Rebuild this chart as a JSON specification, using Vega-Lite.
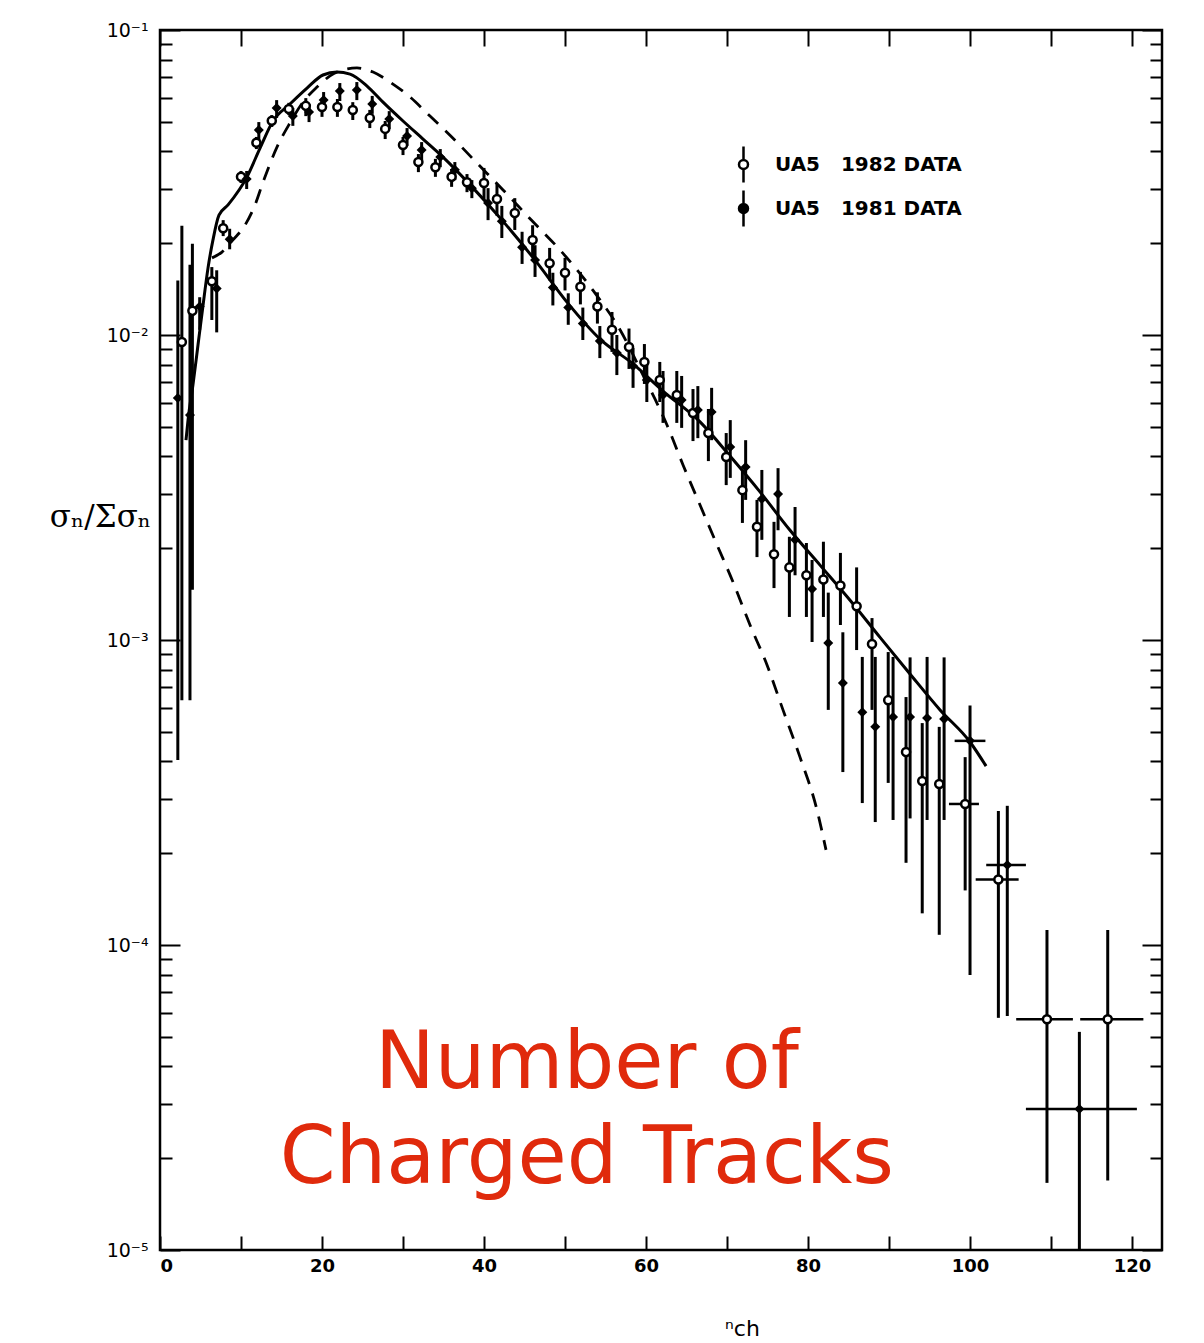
{
 "$schema": "https://vega.github.io/schema/vega-lite/v6.json",
 "width": 1002,
 "height": 1220,
 "autosize": {"type": "none"},
 "padding": {"left": 160, "top": 30, "right": 42, "bottom": 93},
 "background": "white",
 "config": {
  "view": {"stroke": "black", "strokeWidth": 2.5},
  "axis": {"domain": false, "grid": false, "tickColor": "black", "tickWidth": 2, "labelColor": "black", "labelFont": "DejaVu Sans", "labelFontWeight": "bold", "labelFontSize": 18, "titleColor": "black"}
 },
 "datasets": {
  "pts": [
   {"s":"1982","n":2.7,"v":0.00948,"lo":0.000635,"hi":0.0228},
   {"s":"1982","n":4.0,"v":0.0120,"lo":0.00146,"hi":0.0199},
   {"s":"1982","n":6.4,"v":0.0150,"lo":0.0112,"hi":0.0167},
   {"s":"1982","n":7.8,"v":0.0224,"lo":0.0211,"hi":0.0238},
   {"s":"1982","n":10.0,"v":0.0330,"lo":0.0315,"hi":0.0345},
   {"s":"1982","n":11.9,"v":0.0427,"lo":0.0407,"hi":0.0446},
   {"s":"1982","n":13.8,"v":0.0504,"lo":0.0481,"hi":0.0526},
   {"s":"1982","n":15.9,"v":0.0551,"lo":0.0526,"hi":0.0577},
   {"s":"1982","n":18.0,"v":0.0564,"lo":0.0522,"hi":0.0598},
   {"s":"1982","n":20.0,"v":0.0559,"lo":0.0519,"hi":0.0594},
   {"s":"1982","n":21.9,"v":0.0559,"lo":0.0519,"hi":0.0594},
   {"s":"1982","n":23.8,"v":0.0547,"lo":0.0507,"hi":0.0580},
   {"s":"1982","n":25.9,"v":0.0515,"lo":0.0477,"hi":0.0547},
   {"s":"1982","n":27.8,"v":0.0474,"lo":0.0439,"hi":0.0503},
   {"s":"1982","n":30.0,"v":0.0420,"lo":0.0389,"hi":0.0446},
   {"s":"1982","n":31.9,"v":0.0369,"lo":0.0342,"hi":0.0392},
   {"s":"1982","n":34.0,"v":0.0355,"lo":0.0330,"hi":0.0378},
   {"s":"1982","n":36.0,"v":0.0330,"lo":0.0306,"hi":0.0350},
   {"s":"1982","n":37.9,"v":0.0317,"lo":0.0294,"hi":0.0337},
   {"s":"1982","n":40.0,"v":0.0315,"lo":0.0277,"hi":0.0353},
   {"s":"1982","n":41.6,"v":0.0279,"lo":0.0246,"hi":0.0313},
   {"s":"1982","n":43.8,"v":0.0251,"lo":0.0221,"hi":0.0281},
   {"s":"1982","n":46.0,"v":0.0205,"lo":0.0180,"hi":0.0229},
   {"s":"1982","n":48.1,"v":0.0172,"lo":0.0151,"hi":0.0193},
   {"s":"1982","n":50.0,"v":0.0160,"lo":0.0140,"hi":0.0179},
   {"s":"1982","n":51.9,"v":0.0144,"lo":0.0126,"hi":0.0161},
   {"s":"1982","n":54.0,"v":0.0124,"lo":0.0109,"hi":0.0138},
   {"s":"1982","n":55.8,"v":0.0104,"lo":0.00880,"hi":0.0119},
   {"s":"1982","n":57.9,"v":0.00913,"lo":0.00774,"hi":0.0105},
   {"s":"1982","n":59.8,"v":0.00816,"lo":0.00691,"hi":0.00934},
   {"s":"1982","n":61.7,"v":0.00712,"lo":0.00603,"hi":0.00816},
   {"s":"1982","n":63.8,"v":0.00636,"lo":0.00515,"hi":0.00762},
   {"s":"1982","n":65.8,"v":0.00555,"lo":0.00449,"hi":0.00665},
   {"s":"1982","n":67.7,"v":0.00477,"lo":0.00386,"hi":0.00572},
   {"s":"1982","n":69.9,"v":0.00398,"lo":0.00322,"hi":0.00477},
   {"s":"1982","n":71.9,"v":0.00310,"lo":0.00242,"hi":0.00361},
   {"s":"1982","n":73.7,"v":0.00235,"lo":0.00187,"hi":0.00288},
   {"s":"1982","n":75.8,"v":0.00191,"lo":0.00148,"hi":0.00244},
   {"s":"1982","n":77.7,"v":0.00173,"lo":0.00119,"hi":0.00218},
   {"s":"1982","n":79.8,"v":0.00163,"lo":0.00119,"hi":0.00208},
   {"s":"1982","n":81.9,"v":0.00158,"lo":0.00119,"hi":0.00210},
   {"s":"1982","n":84.0,"v":0.00151,"lo":0.00112,"hi":0.00193},
   {"s":"1982","n":86.0,"v":0.00129,"lo":0.000927,"hi":0.00173},
   {"s":"1982","n":87.9,"v":0.000970,"lo":0.000590,"hi":0.00118},
   {"s":"1982","n":89.9,"v":0.000635,"lo":0.000340,"hi":0.000913},
   {"s":"1982","n":92.1,"v":0.000429,"lo":0.000186,"hi":0.000650},
   {"s":"1982","n":94.1,"v":0.000345,"lo":0.000127,"hi":0.000534},
   {"s":"1982","n":96.2,"v":0.000337,"lo":0.000108,"hi":0.000519},
   {"s":"1982","n":99.4,"v":0.000290,"lo":0.000151,"hi":0.000413},
   {"s":"1982","n":103.5,"v":0.000164,"lo":0.0000577,"hi":0.000275},
   {"s":"1982","n":109.5,"v":0.0000571,"lo":0.0000166,"hi":0.000112},
   {"s":"1982","n":117.0,"v":0.0000571,"lo":0.0000169,"hi":0.000112},
   {"s":"1981","n":2.2,"v":0.00622,"lo":0.000404,"hi":0.0151},
   {"s":"1981","n":3.7,"v":0.00547,"lo":0.000635,"hi":0.0170},
   {"s":"1981","n":4.9,"v":0.0124,"lo":0.0104,"hi":0.0133},
   {"s":"1981","n":7.0,"v":0.0142,"lo":0.0102,"hi":0.0163},
   {"s":"1981","n":8.6,"v":0.0206,"lo":0.0191,"hi":0.0223},
   {"s":"1981","n":10.7,"v":0.0325,"lo":0.0301,"hi":0.0345},
   {"s":"1981","n":12.2,"v":0.0470,"lo":0.0436,"hi":0.0499},
   {"s":"1981","n":14.4,"v":0.0555,"lo":0.0515,"hi":0.0589},
   {"s":"1981","n":16.4,"v":0.0522,"lo":0.0485,"hi":0.0555},
   {"s":"1981","n":18.4,"v":0.0538,"lo":0.0499,"hi":0.0572},
   {"s":"1981","n":20.2,"v":0.0589,"lo":0.0547,"hi":0.0626},
   {"s":"1981","n":22.2,"v":0.0631,"lo":0.0585,"hi":0.0670},
   {"s":"1981","n":24.3,"v":0.0636,"lo":0.0589,"hi":0.0675},
   {"s":"1981","n":26.2,"v":0.0572,"lo":0.0531,"hi":0.0608},
   {"s":"1981","n":28.3,"v":0.0511,"lo":0.0474,"hi":0.0542},
   {"s":"1981","n":30.5,"v":0.0449,"lo":0.0417,"hi":0.0477},
   {"s":"1981","n":32.3,"v":0.0404,"lo":0.0375,"hi":0.0429},
   {"s":"1981","n":34.6,"v":0.0383,"lo":0.0355,"hi":0.0407},
   {"s":"1981","n":36.4,"v":0.0348,"lo":0.0322,"hi":0.0369},
   {"s":"1981","n":38.5,"v":0.0303,"lo":0.0281,"hi":0.0322},
   {"s":"1981","n":40.5,"v":0.0271,"lo":0.0238,"hi":0.0303},
   {"s":"1981","n":42.2,"v":0.0236,"lo":0.0208,"hi":0.0265},
   {"s":"1981","n":44.7,"v":0.0194,"lo":0.0171,"hi":0.0218},
   {"s":"1981","n":46.3,"v":0.0176,"lo":0.0155,"hi":0.0197},
   {"s":"1981","n":48.5,"v":0.0143,"lo":0.0125,"hi":0.0160},
   {"s":"1981","n":50.4,"v":0.0123,"lo":0.0108,"hi":0.0137},
   {"s":"1981","n":52.2,"v":0.0109,"lo":0.00963,"hi":0.0123},
   {"s":"1981","n":54.3,"v":0.00956,"lo":0.00840,"hi":0.0107},
   {"s":"1981","n":56.4,"v":0.00873,"lo":0.00739,"hi":0.0100},
   {"s":"1981","n":58.4,"v":0.00791,"lo":0.00671,"hi":0.00907},
   {"s":"1981","n":60.1,"v":0.00712,"lo":0.00603,"hi":0.00816},
   {"s":"1981","n":62.1,"v":0.00636,"lo":0.00515,"hi":0.00762},
   {"s":"1981","n":64.4,"v":0.00612,"lo":0.00496,"hi":0.00734},
   {"s":"1981","n":66.4,"v":0.00568,"lo":0.00459,"hi":0.00680},
   {"s":"1981","n":68.1,"v":0.00559,"lo":0.00452,"hi":0.00671},
   {"s":"1981","n":70.4,"v":0.00429,"lo":0.00340,"hi":0.00526},
   {"s":"1981","n":72.3,"v":0.00369,"lo":0.00288,"hi":0.00452},
   {"s":"1981","n":74.3,"v":0.00290,"lo":0.00213,"hi":0.00361},
   {"s":"1981","n":76.3,"v":0.00301,"lo":0.00229,"hi":0.00366},
   {"s":"1981","n":78.4,"v":0.00213,"lo":0.00163,"hi":0.00273},
   {"s":"1981","n":80.5,"v":0.00147,"lo":0.000985,"hi":0.00183},
   {"s":"1981","n":82.5,"v":0.000977,"lo":0.000590,"hi":0.00143},
   {"s":"1981","n":84.3,"v":0.000723,"lo":0.000369,"hi":0.00106},
   {"s":"1981","n":86.7,"v":0.000580,"lo":0.000292,"hi":0.000880},
   {"s":"1981","n":88.3,"v":0.000519,"lo":0.000253,"hi":0.000880},
   {"s":"1981","n":90.5,"v":0.000559,"lo":0.000257,"hi":0.000880},
   {"s":"1981","n":92.6,"v":0.000559,"lo":0.000260,"hi":0.000877},
   {"s":"1981","n":94.7,"v":0.000555,"lo":0.000257,"hi":0.000880},
   {"s":"1981","n":96.8,"v":0.000551,"lo":0.000257,"hi":0.000877},
   {"s":"1981","n":100.0,"v":0.000467,"lo":0.0000798,"hi":0.000610},
   {"s":"1981","n":104.6,"v":0.000183,"lo":0.0000585,"hi":0.000286},
   {"s":"1981","n":113.5,"v":0.0000290,"lo":0.00001,"hi":0.0000519}
  ],
  "hbars": [
   {"s":"1982","n1":97.4,"n2":101.1,"v":0.000290},
   {"s":"1981","n1":98.1,"n2":101.9,"v":0.000467},
   {"s":"1982","n1":100.7,"n2":106.0,"v":0.000164},
   {"s":"1981","n1":102.0,"n2":106.9,"v":0.000183},
   {"s":"1982","n1":105.7,"n2":112.7,"v":0.0000571},
   {"s":"1982","n1":113.6,"n2":121.4,"v":0.0000571},
   {"s":"1981","n1":106.9,"n2":120.6,"v":0.0000290}
  ],
  "curves": [
   {"c":"solid","n":3.21,"v":0.00452},
   {"c":"solid","n":3.46,"v":0.00526},
   {"c":"solid","n":4.07,"v":0.00686},
   {"c":"solid","n":4.69,"v":0.00927},
   {"c":"solid","n":5.31,"v":0.0125},
   {"c":"solid","n":5.93,"v":0.0166},
   {"c":"solid","n":6.54,"v":0.0205},
   {"c":"solid","n":7.28,"v":0.0247},
   {"c":"solid","n":8.40,"v":0.0267},
   {"c":"solid","n":10.74,"v":0.0330},
   {"c":"solid","n":12.35,"v":0.0410},
   {"c":"solid","n":13.95,"v":0.0503},
   {"c":"solid","n":16.05,"v":0.0572},
   {"c":"solid","n":18.15,"v":0.0645},
   {"c":"solid","n":20.12,"v":0.0712},
   {"c":"solid","n":21.85,"v":0.0728},
   {"c":"solid","n":23.46,"v":0.0717},
   {"c":"solid","n":25.56,"v":0.0655},
   {"c":"solid","n":27.53,"v":0.0580},
   {"c":"solid","n":30.0,"v":0.0503},
   {"c":"solid","n":32.47,"v":0.0439},
   {"c":"solid","n":34.94,"v":0.0383},
   {"c":"solid","n":38.52,"v":0.0306},
   {"c":"solid","n":42.22,"v":0.0238},
   {"c":"solid","n":46.30,"v":0.0176},
   {"c":"solid","n":50.37,"v":0.0127},
   {"c":"solid","n":54.32,"v":0.00970},
   {"c":"solid","n":58.40,"v":0.00804},
   {"c":"solid","n":62.10,"v":0.00655},
   {"c":"solid","n":66.67,"v":0.00519},
   {"c":"solid","n":70.37,"v":0.00401},
   {"c":"solid","n":74.07,"v":0.00306},
   {"c":"solid","n":77.78,"v":0.00229},
   {"c":"solid","n":81.48,"v":0.00176},
   {"c":"solid","n":85.19,"v":0.00135},
   {"c":"solid","n":88.89,"v":0.00102},
   {"c":"solid","n":92.59,"v":0.000774},
   {"c":"solid","n":96.30,"v":0.000590},
   {"c":"solid","n":100.0,"v":0.000463},
   {"c":"solid","n":101.98,"v":0.000386},
   {"c":"dashed","n":6.42,"v":0.0179},
   {"c":"dashed","n":7.65,"v":0.0187},
   {"c":"dashed","n":9.01,"v":0.0205},
   {"c":"dashed","n":10.49,"v":0.0229},
   {"c":"dashed","n":11.73,"v":0.0267},
   {"c":"dashed","n":12.72,"v":0.0317},
   {"c":"dashed","n":14.44,"v":0.0413},
   {"c":"dashed","n":16.05,"v":0.0496},
   {"c":"dashed","n":17.65,"v":0.0580},
   {"c":"dashed","n":19.38,"v":0.0650},
   {"c":"dashed","n":20.99,"v":0.0707},
   {"c":"dashed","n":22.59,"v":0.0740},
   {"c":"dashed","n":24.32,"v":0.0751},
   {"c":"dashed","n":26.30,"v":0.0728},
   {"c":"dashed","n":28.40,"v":0.0675},
   {"c":"dashed","n":30.86,"v":0.0603},
   {"c":"dashed","n":33.33,"v":0.0522},
   {"c":"dashed","n":35.80,"v":0.0452},
   {"c":"dashed","n":39.14,"v":0.0366},
   {"c":"dashed","n":42.35,"v":0.0299},
   {"c":"dashed","n":46.05,"v":0.0235},
   {"c":"dashed","n":49.38,"v":0.0190},
   {"c":"dashed","n":53.46,"v":0.0140},
   {"c":"dashed","n":56.79,"v":0.0104},
   {"c":"dashed","n":59.63,"v":0.00739},
   {"c":"dashed","n":62.59,"v":0.00507},
   {"c":"dashed","n":64.57,"v":0.00375},
   {"c":"dashed","n":66.67,"v":0.00277},
   {"c":"dashed","n":68.77,"v":0.00205},
   {"c":"dashed","n":70.74,"v":0.00155},
   {"c":"dashed","n":72.84,"v":0.00112},
   {"c":"dashed","n":74.94,"v":0.000828},
   {"c":"dashed","n":76.91,"v":0.000590},
   {"c":"dashed","n":79.01,"v":0.000413},
   {"c":"dashed","n":81.11,"v":0.000277},
   {"c":"dashed","n":82.22,"v":0.000205}
  ],
  "note": [
   {"n": 52.7, "v": 0.0000340, "t": "Number of\nCharged Tracks"}
  ]
 },
 "resolve": {"axis": {"x": "independent", "y": "independent"}},
 "layer": [
  {
   "data": {"name": "pts"},
   "mark": {"type": "rule", "strokeWidth": 3, "color": "black", "clip": true},
   "encoding": {
    "x": {"field": "n", "type": "quantitative",
     "scale": {"domain": [0, 123.7], "nice": false, "zero": false},
     "axis": {"orient": "bottom", "values": [0,10,20,30,40,50,60,70,80,90,100,110,120],
      "labelExpr": "datum.value % 20 == 0 ? datum.label : ''", "tickSize": -14, "labelPadding": 21,
      "title": "ⁿch", "titleFont": "DejaVu Sans", "titleFontSize": 22, "titleFontWeight": "normal",
      "titleX": 582, "titleY": 85, "titleAlign": "center", "titleBaseline": "alphabetic"}},
    "y": {"field": "lo", "type": "quantitative",
     "scale": {"type": "log", "domain": [0.00001, 0.1], "nice": false},
     "axis": {"orient": "left", "values": [0.00001, 0.0001, 0.001, 0.01, 0.1], "tickSize": -20, "labelPadding": 32,
      "labelFontWeight": "normal", "labelFontSize": 19,
      "labelExpr": "'10' + (datum.value < 0.00005 ? '⁻⁵' : datum.value < 0.0005 ? '⁻⁴' : datum.value < 0.005 ? '⁻³' : datum.value < 0.05 ? '⁻²' : '⁻¹')",
      "title": "σₙ/Σσₙ", "titleFont": "DejaVu Serif", "titleFontSize": 31, "titleFontWeight": "normal", "titleAngle": 0,
      "titleX": -60, "titleY": 487, "titleAlign": "center", "titleBaseline": "middle"}},
    "y2": {"field": "hi"}
   }
  },
  {
   "data": {"name": "hbars"},
   "mark": {"type": "rule", "strokeWidth": 2.5, "color": "black", "clip": true},
   "encoding": {
    "x": {"field": "n1", "type": "quantitative",
     "axis": {"orient": "top", "values": [0,10,20,30,40,50,60,70,80,90,100,110,120], "labels": false, "tickSize": -16, "title": null}},
    "x2": {"field": "n2"},
    "y": {"field": "v", "type": "quantitative",
     "axis": {"orient": "left", "labels": false, "title": null, "tickSize": -12,
      "values": [0.00002,0.00003,0.00004,0.00005,0.00006,0.00007,0.00008,0.00009,0.0002,0.0003,0.0004,0.0005,0.0006,0.0007,0.0008,0.0009,0.002,0.003,0.004,0.005,0.006,0.007,0.008,0.009,0.02,0.03,0.04,0.05,0.06,0.07,0.08,0.09]}}
   }
  },
  {
   "data": {"name": "curves"},
   "transform": [{"filter": "datum.c == 'solid'"}],
   "mark": {"type": "line", "strokeWidth": 3, "color": "black", "clip": true, "interpolate": "monotone"},
   "encoding": {
    "x": {"field": "n", "type": "quantitative", "axis": null},
    "y": {"field": "v", "type": "quantitative",
     "axis": {"orient": "right", "labels": false, "title": null, "tickSize": -20, "values": [0.00001, 0.0001, 0.001, 0.01, 0.1]}}
   }
  },
  {
   "data": {"name": "curves"},
   "transform": [{"filter": "datum.c == 'dashed'"}],
   "mark": {"type": "line", "strokeWidth": 2.8, "color": "black", "strokeDash": [14, 10], "clip": true, "interpolate": "monotone"},
   "encoding": {
    "x": {"field": "n", "type": "quantitative", "axis": null},
    "y": {"field": "v", "type": "quantitative",
     "axis": {"orient": "right", "labels": false, "title": null, "tickSize": -12,
      "values": [0.00002,0.00003,0.00004,0.00005,0.00006,0.00007,0.00008,0.00009,0.0002,0.0003,0.0004,0.0005,0.0006,0.0007,0.0008,0.0009,0.002,0.003,0.004,0.005,0.006,0.007,0.008,0.009,0.02,0.03,0.04,0.05,0.06,0.07,0.08,0.09]}}
   }
  },
  {
   "data": {"name": "pts"},
   "transform": [{"filter": "datum.s == '1982'"}],
   "mark": {"type": "point", "filled": false, "stroke": "black", "strokeWidth": 2.5, "opacity": 1, "size": 65, "clip": true},
   "encoding": {
    "x": {"field": "n", "type": "quantitative", "axis": null},
    "y": {"field": "v", "type": "quantitative", "axis": null},
    "fill": {"field": "s", "type": "nominal",
     "scale": {"domain": ["1982", "1981"], "range": ["white", "black"]},
     "legend": {"orient": "none", "legendX": 572, "legendY": 123, "title": null, "padding": 0,
      "symbolType": "M0,-1.8L0,-0.45M0,0.45L0,1.8M-0.45,0A0.45,0.45,0,1,0,0.45,0A0.45,0.45,0,1,0,-0.45,0Z",
      "symbolSize": 400, "symbolStrokeColor": "black", "symbolStrokeWidth": 2.5, "symbolOpacity": 1,
      "labelOffset": 20, "rowPadding": -3, "labelLimit": 500, "labelFont": "DejaVu Sans", "labelFontSize": 20, "labelFontWeight": "bold", "labelColor": "black",
      "labelExpr": "'UA5\u00a0\u00a0\u00a0' + datum.label + '\u00a0DATA'"}}
   }
  },
  {
   "data": {"name": "pts"},
   "transform": [{"filter": "datum.s == '1981'"}],
   "mark": {"type": "point", "shape": "diamond", "filled": true, "color": "black", "opacity": 1, "size": 100, "clip": true},
   "encoding": {
    "x": {"field": "n", "type": "quantitative", "axis": null},
    "y": {"field": "v", "type": "quantitative", "axis": null}
   }
  },
  {
   "data": {"name": "note"},
   "mark": {"type": "text", "color": "#e02a0c", "font": "DejaVu Sans", "fontSize": 80, "align": "center", "baseline": "alphabetic", "lineBreak": "\n", "lineHeight": 95},
   "encoding": {
    "x": {"field": "n", "type": "quantitative", "axis": null},
    "y": {"field": "v", "type": "quantitative", "axis": null},
    "text": {"field": "t"}
   }
  }
 ]
}
